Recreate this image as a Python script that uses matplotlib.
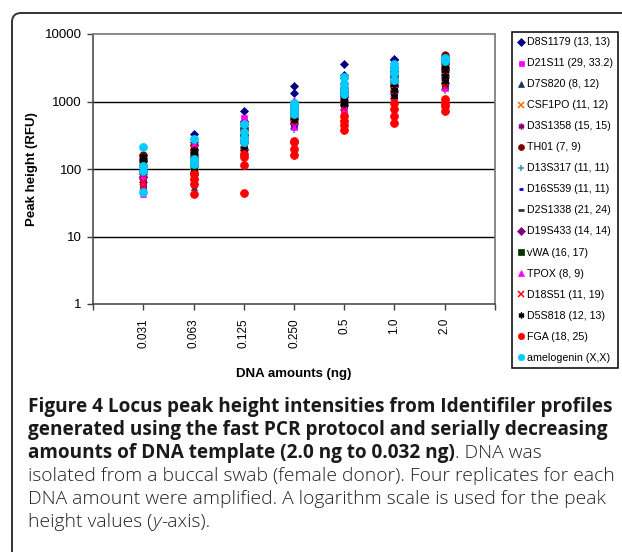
import numpy as np
import matplotlib
matplotlib.use("Agg")
import matplotlib.pyplot as plt
from matplotlib.patches import FancyBboxPatch
from matplotlib.lines import Line2D
from matplotlib.ticker import NullLocator, FixedLocator
from matplotlib.transforms import IdentityTransform

# ── Data: peak heights (RFU), four replicates per DNA amount ──────────────────
AMOUNTS = ["0.031", "0.063", "0.125", "0.250", "0.5", "1.0", "2.0"]

D8S1179 = [[160, 130, 110, 90], [330, 250, 200, 150], [720, 520, 450, 380],
           [1700, 1330, 1000, 900], [3600, 2500, 2200, 1900],
           [4300, 4100, 3200, 2800], [4600, 4200, 3900, 3300]]
D21S11 = [[45, 50, 60, 70], [60, 90, 220, 240], [180, 250, 560, 300],
          [430, 500, 600, 800], [700, 760, 900, 1100],
          [1400, 1700, 1800, 2000], [1700, 2000, 2300, 2600]]
D7S820 = [[60, 75, 90, 110], [55, 80, 110, 150], [200, 250, 300, 380],
          [500, 600, 700, 800], [1000, 1200, 1500, 1700],
          [1600, 1900, 2300, 2800], [2000, 2400, 2800, 3200]]
CSF1PO = [[80, 100, 120, 140], [90, 120, 150, 180], [220, 280, 340, 420],
          [520, 620, 720, 850], [900, 1100, 1300, 1600],
          [1300, 1600, 2000, 2400], [1800, 2200, 2600, 3000]]
D3S1358 = [[55, 70, 85, 100], [65, 85, 110, 140], [180, 230, 280, 350],
           [480, 560, 650, 760], [850, 1000, 1200, 1400],
           [1500, 1800, 2100, 2500], [2200, 2700, 3200, 3600]]
TH01 = [[110, 130, 145, 160], [120, 160, 190, 230], [250, 320, 400, 480],
        [550, 650, 750, 850], [1000, 1200, 1400, 1600],
        [1700, 2000, 2400, 2800], [3000, 3600, 4200, 4900]]
D13S317 = [[70, 90, 110, 130], [70, 100, 130, 170], [160, 210, 260, 330],
           [390, 460, 540, 640], [750, 900, 1050, 1200],
           [1100, 1300, 1600, 1900], [1500, 1800, 2100, 2500]]
D16S539 = [[60, 80, 100, 120], [80, 100, 130, 160], [190, 240, 300, 370],
           [420, 450, 520, 600], [850, 950, 1100, 1300],
           [1100, 1400, 1700, 2000], [1600, 1900, 2300, 2700]]
D2S1338 = [[75, 95, 115, 135], [85, 110, 140, 175], [200, 260, 320, 400],
           [500, 590, 680, 780], [900, 1050, 1250, 1450],
           [1400, 1700, 2000, 2300], [1900, 2300, 2700, 3100]]
D19S433 = [[65, 75, 85, 95], [70, 90, 120, 150], [190, 240, 290, 360],
           [470, 550, 640, 740], [880, 1000, 1150, 1350],
           [1500, 1800, 2100, 2500], [2500, 2900, 3300, 3700]]
VWA = [[100, 120, 140, 150], [100, 130, 170, 200], [220, 280, 350, 430],
       [520, 600, 700, 800], [950, 1100, 1300, 1500],
       [1300, 1500, 1800, 2200], [1900, 2300, 2700, 3000]]
TPOX = [[42, 55, 65, 80], [60, 90, 120, 240], [170, 220, 280, 540],
        [420, 520, 620, 1050], [720, 850, 1000, 1200],
        [1200, 1500, 1800, 2100], [1600, 2000, 2400, 2900]]
D18S51 = [[55, 65, 85, 130], [65, 85, 190, 200], [190, 200, 260, 330],
          [500, 560, 650, 750], [800, 1000, 1200, 1400],
          [1000, 1300, 1600, 1900], [1700, 2100, 2500, 2900]]
D5S818 = [[90, 110, 130, 150], [90, 120, 160, 190], [200, 260, 330, 410],
          [530, 600, 680, 780], [920, 1000, 1150, 1350],
          [1200, 1500, 1800, 2100], [2000, 2400, 2900, 3500]]
FGA = [[], [43, 60, 70, 85], [44, 115, 150, 165], [160, 200, 250, 260],
       [380, 450, 520, 600], [480, 620, 780, 950], [720, 850, 950, 1100]]
AMELOGENIN = [[210, 110, 95, 45], [280, 140, 130, 120], [460, 350, 290, 250],
              [950, 850, 750, 650], [2300, 1800, 1500, 1300],
              [3600, 3000, 2600, 2100], [4400, 4300, 4200, 4000]]

LABELS = ["D8S1179 (13, 13)", "D21S11 (29, 33.2)", "D7S820 (8, 12)",
          "CSF1PO (11, 12)", "D3S1358 (15, 15)", "TH01 (7, 9)",
          "D13S317 (11, 11)", "D16S539 (11, 11)", "D2S1338 (21, 24)",
          "D19S433 (14, 14)", "vWA (16, 17)", "TPOX (8, 9)",
          "D18S51 (11, 19)", "D5S818 (12, 13)", "FGA (18, 25)",
          "amelogenin (X,X)"]
SERIES = [D8S1179, D21S11, D7S820, CSF1PO, D3S1358, TH01, D13S317, D16S539,
          D2S1338, D19S433, VWA, TPOX, D18S51, D5S818, FGA, AMELOGENIN]

STAR = (6, 2, 0)
# (marker, colour, size, edge width)
STYLES = [("D", "#000080", 4.5, 0.5), ("s", "#FF00FF", 4.5, 0.5),
          ("^", "#17375E", 5.0, 0.5), ("x", "#FF6600", 4.8, 1.1),
          (STAR, "#800080", 5.2, 1.1), ("o", "#800000", 5.4, 0.5),
          ("+", "#339999", 5.2, 1.1), ("_", "#0000FF", 4.2, 2.0),
          ("_", "#333333", 5.2, 2.0), ("D", "#800080", 4.5, 0.5),
          ("s", "#003300", 5.0, 0.5), ("^", "#FF00FF", 5.0, 0.5),
          ("x", "#FF0000", 4.8, 1.1), (STAR, "#000000", 5.2, 1.1),
          ("o", "#FF0000", 5.7, 0.5), ("o", "#00CCFF", 5.8, 0.5)]

W, H = 622, 552
plt.rcParams["font.family"] = ["Liberation Sans", "DejaVu Sans"]
fig = plt.figure(figsize=(W / 100, H / 100), dpi=100)

# ── Rounded frame around the figure panel ────────────────────────────────────
frame = FancyBboxPatch((12, -40), 700, H - 13 + 40,
                       boxstyle="round,pad=0,rounding_size=9",
                       fc="none", ec="#333333", lw=1.4,
                       transform=IdentityTransform())
fig.add_artist(frame)

# ── Scatter plot ──────────────────────────────────────────────────────────────
ax = fig.add_axes([93 / W, 1 - 304 / H, (495 - 93) / W, (304 - 34) / H])
for vals, (mk, col, ms, mew) in zip(SERIES, STYLES):
    xs = np.concatenate([[i + 1] * len(v) for i, v in enumerate(vals)])
    ys = np.concatenate([np.asarray(v, dtype=float) for v in vals])
    ax.plot(xs, ys, ls="none", marker=mk, color=col, ms=ms, mew=mew,
            mec=col, zorder=3)

ax.set_yscale("log")
ax.set_ylim(1, 10000)
ax.set_xlim(0, 8)
ax.yaxis.set_minor_locator(NullLocator())
ax.set_yticks([1, 10, 100, 1000, 10000])
ax.set_yticklabels(["1", "10", "100", "1000", "10000"], fontsize=9.5)
ax.set_xticks(range(1, 8))
ax.set_xticklabels(AMOUNTS, rotation=90, fontsize=8.5)
ax.xaxis.set_minor_locator(FixedLocator([0, 8]))
ax.tick_params(axis="both", which="both", direction="out", length=4,
               width=1, color="#404040", pad=4)
ax.tick_params(axis="x", pad=6)
for y in [10, 100, 1000]:
    ax.axhline(y, color="black", lw=1, zorder=1)
for s in ["top", "right"]:
    ax.spines[s].set_color("#808080")
    ax.spines[s].set_linewidth(1.3)
for s in ["left", "bottom"]:
    ax.spines[s].set_color("#404040")
    ax.spines[s].set_linewidth(1.1)

ax.set_ylabel("Peak height (RFU)", fontsize=9.5, fontweight="bold", labelpad=5)
ax.set_xlabel("DNA amounts (ng)", fontsize=9.5, fontweight="bold", labelpad=15)

# ── Legend ────────────────────────────────────────────────────────────────────
handles = [Line2D([], [], ls="none", marker=mk, color=col, mec=col,
                  ms=ms * 0.8, mew=mew) for (mk, col, ms, mew) in STYLES]
leg = fig.legend(handles, LABELS, loc="upper left",
                 bbox_to_anchor=(512 / W, 1 - 32 / H), fontsize=7.7,
                 frameon=True, fancybox=False, framealpha=1,
                 edgecolor="black", borderpad=0.5, labelspacing=1.03,
                 handlelength=0.7, handletextpad=0.2, borderaxespad=0)
leg.get_frame().set_linewidth(1.1)

# ── Caption ───────────────────────────────────────────────────────────────────
renderer = fig.canvas.get_renderer()
CAP_FONT = ["Open Sans", "DejaVu Sans"]
X0, X1 = 28, 613

probe_b = fig.text(0, 0, "Figure 4 Locus peak height intensities from Identifiler profiles",
                   fontsize=12, fontweight="bold", family=CAP_FONT)
size_b = 12 * (X1 - X0) / probe_b.get_window_extent(renderer).width
probe_b.remove()
probe_r = fig.text(0, 0, "isolated from a buccal swab (female donor). Four replicates for each",
                   fontsize=12, fontweight="light", family=CAP_FONT)
size_r = 12 * (X1 - X0) / probe_r.get_window_extent(renderer).width
probe_r.remove()

BOLD = dict(fontsize=size_b, fontweight="bold", family=CAP_FONT, color="#1a1a1a")
REG = dict(fontsize=size_r, fontweight="light", family=CAP_FONT, color="#222222")
ITAL = dict(fontsize=size_r, fontweight="light", family=CAP_FONT,
            color="#222222", style="italic")

CAPTION = [
    (412, [("Figure 4 Locus peak height intensities from Identifiler profiles", BOLD)]),
    (435, [("generated using the fast PCR protocol and serially decreasing", BOLD)]),
    (458, [("amounts of DNA template (2.0 ng to 0.032 ng)", BOLD), (". DNA was", REG)]),
    (481, [("isolated from a buccal swab (female donor). Four replicates for each", REG)]),
    (504, [("DNA amount were amplified. A logarithm scale is used for the peak", REG)]),
    (527, [("height values (", REG), ("y", ITAL), ("-axis).", REG)]),
]
for ypix, pieces in CAPTION:
    x = X0
    for txt, kw in pieces:
        t = fig.text(x / W, 1 - ypix / H, txt, va="baseline", ha="left", **kw)
        x += t.get_window_extent(renderer).width

fig.savefig("out.png", dpi=100)
